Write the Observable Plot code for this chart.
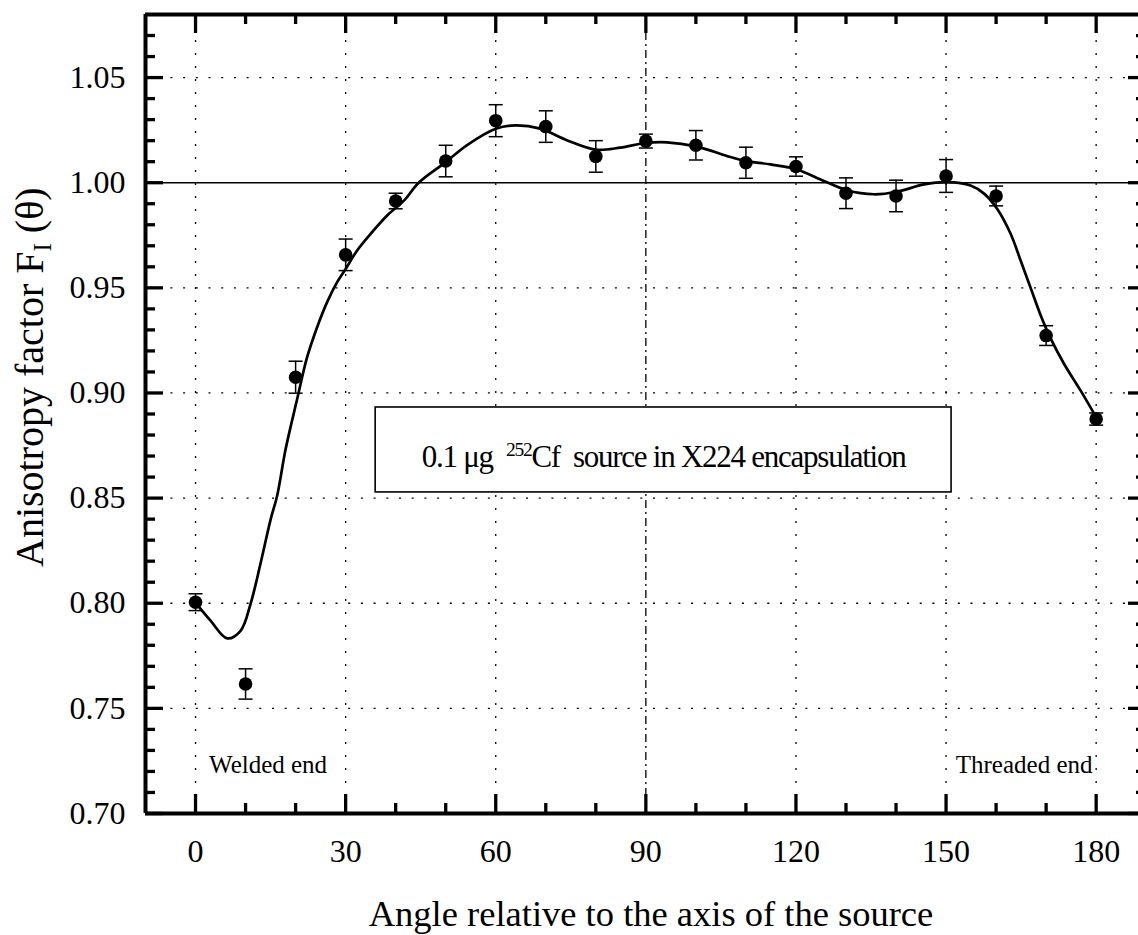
<!DOCTYPE html>
<html><head><meta charset="utf-8">
<script src="https://cdn.jsdelivr.net/npm/d3@7"></script>
<script src="https://cdn.jsdelivr.net/npm/@observablehq/plot@0.6"></script>
<style>body{margin:0;background:#fff} svg{display:block} svg text{font-family:"Liberation Serif", serif !important}</style>
</head><body><div id="chart"></div>
<script>
// measured anisotropy factors
const angles = [0,10,20,30,40,50,60,70,80,90,100,110,120,130,140,150,160,170,180];
const anisotropy = [0.8005,0.7616,0.9075,0.9657,0.9913,1.0103,1.0295,1.0267,1.0125,1.0198,1.0178,1.0095,1.0077,0.9950,0.9937,1.0032,0.9937,0.9273,0.8876];
const uncertainty = [0.0040,0.0072,0.0076,0.0075,0.0037,0.0075,0.0076,0.0075,0.0075,0.0033,0.0070,0.0074,0.0046,0.0073,0.0075,0.0078,0.0047,0.0047,0.0029];
// fitted curve
const fitAngles = [0,3,6.3,9,11,13,15,16.3,18,20.3,22.3,24.3,26.3,28.3,30,32.3,35,38.3,41.7,44.6,50,54.2,60,63.9,68.9,74.2,80,84.9,90,94.2,100,106.9,110,114.9,120.2,125.6,130.2,135.6,140.2,145.6,150.2,154.9,157.6,160.2,162.9,164.9,166.9,168.9,170.9,173.6,176.9,180];
const fitValues = [0.8003,0.7917,0.7833,0.7869,0.7997,0.819,0.8398,0.851,0.8732,0.897,0.917,0.9313,0.9432,0.9527,0.959,0.9678,0.9757,0.9844,0.9916,1.0,1.0098,1.0178,1.0257,1.0273,1.0257,1.0202,1.0157,1.0167,1.0189,1.0192,1.0173,1.0122,1.0103,1.0087,1.0063,1.0008,0.9964,0.9945,0.9957,0.9992,1.0003,0.9987,0.9948,0.9876,0.9757,0.963,0.950,0.937,0.926,0.9138,0.9011,0.8885];
// ticks
const xMajorTicks = [0,30,60,90,120,150,180];
const xMinorTicks = [10,20,40,50,70,80,100,110,130,140,160,170];
const yMajorTicks = [0.70,0.75,0.80,0.85,0.90,0.95,1.00,1.05];
const yMinorTicks = [0.71,0.72,0.73,0.74,0.76,0.77,0.78,0.79,0.81,0.82,0.83,0.84,0.86,0.87,0.88,0.89,0.91,0.92,0.93,0.94,0.96,0.97,0.98,0.99,1.01,1.02,1.03,1.04,1.06,1.07];
// texts
const xTitle = "Angle relative to the axis of the source";
const yTitle = "Anisotropy factor FI (θ)";
const boxText = "0.1 μg 252Cf source in X224 encapsulation";
const endLabels = ["Welded end", "Threaded end"];
const endLabelAngles = [14.5, 165.6];
const endLabelValue = 0.7193;
const boxAngles = [36, 151.1];
const boxValues = [0.8527, 0.8931];
const referenceLine = [1.00];

const points = angles.map((a, i) => ({a, v: anisotropy[i], e: uncertainty[i]}));
const fit = fitAngles.map((a, i) => ({a, v: fitValues[i]}));
const capSymbol = {draw(ctx, size) { const w = Math.sqrt(size / Math.PI); ctx.moveTo(-w, 0); ctx.lineTo(w, 0); }};
const serif = "Liberation Serif";

const frameH = 935 - 14 - 122; // 799
const frameW = 1138 - 145;     // 993

const chart = Plot.plot({
  width: 1138, height: 935,
  marginLeft: 145, marginTop: 14, marginBottom: 122, marginRight: 0,
  style: {fontFamily: serif, background: "white", color: "black"},
  x: {domain: [-10, 190], range: [145, 145 + 200 * 5.0035]},
  y: {domain: [0.70, 1.08]},
  marks: [
    Plot.gridX(xMajorTicks.filter(d => d !== 90), {stroke: "black", strokeOpacity: 1, strokeWidth: 1.3, strokeDasharray: "2,11"}),
    Plot.gridX([90], {stroke: "black", strokeOpacity: 1, strokeWidth: 1.3, strokeDasharray: "8,4,2,4"}),
    Plot.gridY(yMajorTicks.filter(d => d !== 1 && d !== 0.70), {stroke: "black", strokeOpacity: 1, strokeWidth: 1.3, strokeDasharray: "2,10.7"}),
    Plot.ruleY(referenceLine, {stroke: "black", strokeWidth: 1.6}),
    Plot.rect([0], {x1: () => boxAngles[0], x2: () => boxAngles[1], y1: () => boxValues[0], y2: () => boxValues[1], fill: "white", stroke: "black", strokeWidth: 1.6}),
    Plot.text([boxText], {x: () => (boxAngles[0] + boxAngles[1]) / 2, y: () => (boxValues[0] + boxValues[1]) / 2, text: d => d, fontSize: 31, fontFamily: serif, lineAnchor: "middle", dy: 7, fill: "black"}),
    Plot.text(endLabels, {x: (d, i) => endLabelAngles[i], y: () => endLabelValue, text: d => d, fontSize: 25, fontFamily: serif, lineAnchor: "bottom", fill: "black"}),
    Plot.line(fit, {x: "a", y: "v", curve: "catmull-rom", stroke: "black", strokeWidth: 2.7}),
    Plot.ruleX(points, {x: "a", y1: d => d.v - d.e, y2: d => d.v + d.e, stroke: "black", strokeWidth: 1.5}),
    Plot.dot(points, {x: "a", y: d => d.v + d.e, r: 7, symbol: capSymbol, stroke: "black", fill: "none", strokeWidth: 1.5}),
    Plot.dot(points, {x: "a", y: d => d.v - d.e, r: 7, symbol: capSymbol, stroke: "black", fill: "none", strokeWidth: 1.5}),
    Plot.dot(points, {x: "a", y: "v", r: 6.8, fill: "black", stroke: "none"}),
    // frame
    Plot.ruleX([-10, 190], {stroke: "black", strokeWidth: 4}),
    Plot.ruleY([0.70, 1.08], {stroke: "black", strokeWidth: 4}),
    // inward ticks
    Plot.tickX(xMajorTicks, {x: d => d, insetTop: frameH - 19, stroke: "black", strokeWidth: 3.3}),
    Plot.tickX(xMinorTicks, {x: d => d, insetTop: frameH - 10, stroke: "black", strokeWidth: 3.3}),
    Plot.tickX(xMajorTicks, {x: d => d, insetBottom: frameH - 19, stroke: "black", strokeWidth: 3.3}),
    Plot.tickX(xMinorTicks, {x: d => d, insetBottom: frameH - 10, stroke: "black", strokeWidth: 3.3}),
    Plot.tickY(yMajorTicks, {y: d => d, insetRight: frameW - 18, stroke: "black", strokeWidth: 3.3}),
    Plot.tickY(yMinorTicks, {y: d => d, insetRight: frameW - 10, stroke: "black", strokeWidth: 3.3}),
    Plot.tickY(yMajorTicks, {y: d => d, insetLeft: frameW - 10, stroke: "black", strokeWidth: 3.3}),
    Plot.tickY(yMinorTicks, {y: d => d, insetLeft: frameW - 2, stroke: "black", strokeWidth: 3.3}),
    // tick labels
    Plot.axisX(xMajorTicks, {anchor: "bottom", tickSize: 0, tickPadding: 26, fontSize: 32, fontFamily: serif, fontVariant: "normal", tickFormat: d => String(d), label: null}),
    Plot.axisY(yMajorTicks, {anchor: "left", tickSize: 0, tickPadding: 20, fontSize: 32, fontFamily: serif, fontVariant: "normal", tickFormat: d => d.toFixed(2), label: null}),
    // axis titles
    Plot.text([xTitle], {frameAnchor: "bottom", text: d => d, fontSize: 36.5, fontFamily: serif, lineAnchor: "bottom", dy: 112, dx: 9, fill: "black"}),
    Plot.text([yTitle], {frameAnchor: "left", text: d => d, fontSize: 40, fontFamily: serif, rotate: -90, textAnchor: "start", lineAnchor: "bottom", dx: -103, dy: 153, fill: "black"})
  ]
});

// rich text: subscript and superscript
d3.select(chart).selectAll("text").each(function() {
  const t = this.textContent;
  const sel = d3.select(this);
  if (t === yTitle) {
    sel.text(null);
    sel.append("tspan").text("Anisotropy factor F");
    sel.append("tspan").attr("font-size", "25").attr("dy", "8").text("I");
    sel.append("tspan").attr("dy", "-8").text(" (θ)");
  } else if (t === boxText) {
    sel.text(null).style("white-space", "pre").style("letter-spacing", "-1.25px");
    sel.append("tspan").text("0.1 μg  ");
    sel.append("tspan").attr("font-size", "19.5").attr("dy", "-11").text("252");
    sel.append("tspan").attr("dy", "11").text("Cf  source in X224 encapsulation");
  }
});

document.getElementById("chart").appendChild(chart);
</script>
</body></html>
